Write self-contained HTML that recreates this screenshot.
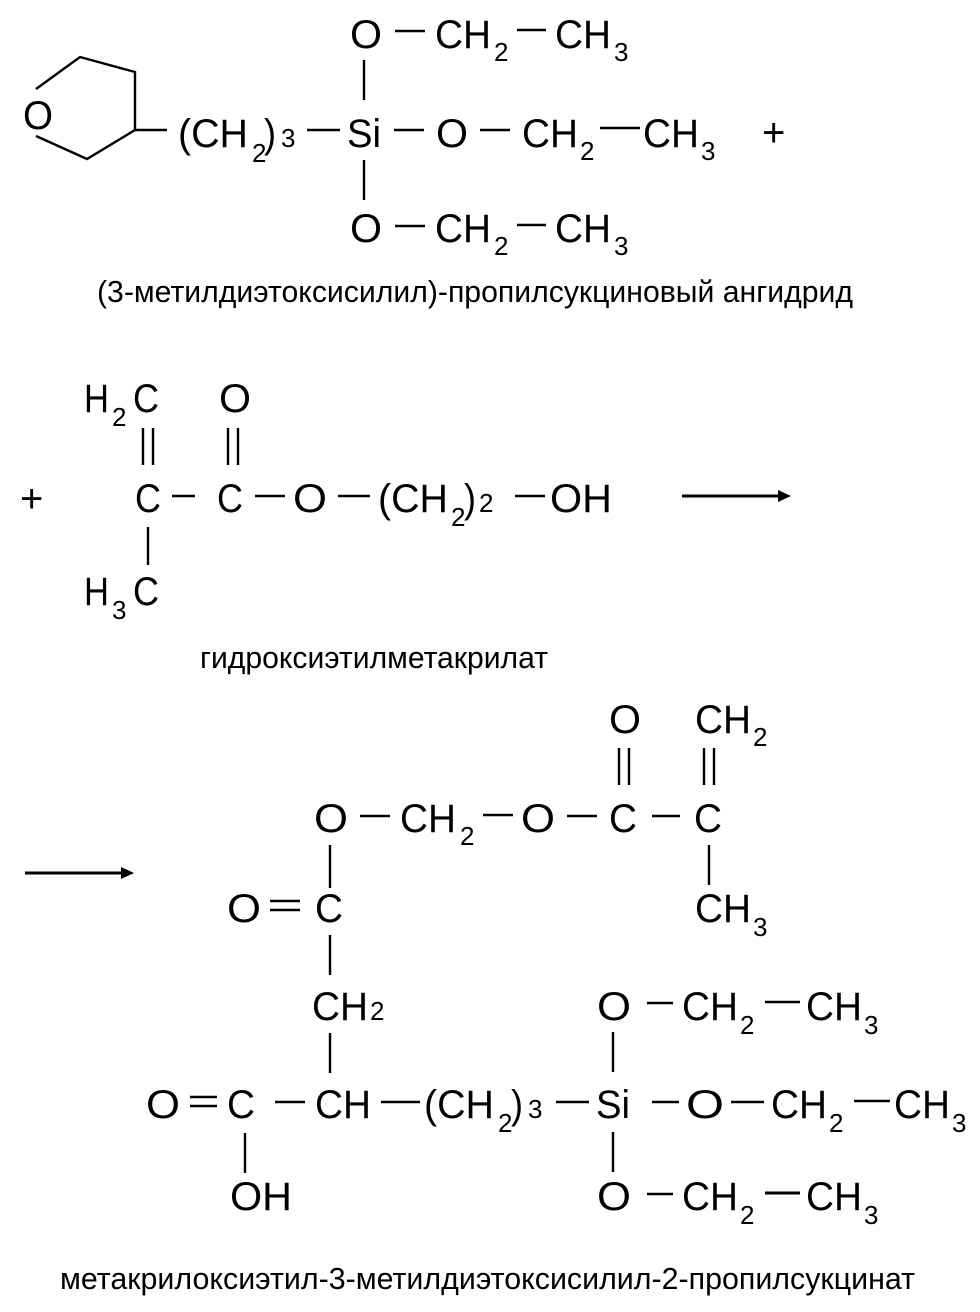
<!DOCTYPE html>
<html><head><meta charset="utf-8"><style>
html,body{margin:0;padding:0;background:#fff;}
svg{display:block;}
text{font-family:"Liberation Sans",sans-serif;fill:#000;}
.m{font-size:40px;}
.s{font-size:26px;}
.l{font-family:"Liberation Sans Narrow","Liberation Sans",sans-serif;font-size:31px;}
line,polyline{stroke:#000;stroke-width:2.4;fill:none;}
</style></head><body>
<svg width="980" height="1312" viewBox="0 0 980 1312" xmlns="http://www.w3.org/2000/svg">
<!-- Section 1 -->
<polyline points="36,89 80,57 135,72 135,130 87,159 36,136"/>
<line x1="135" y1="130" x2="167" y2="130"/>
<text class="m" x="23" y="129" textLength="30" lengthAdjust="spacingAndGlyphs">O</text>
<text class="m" x="178" y="147" textLength="70" lengthAdjust="spacingAndGlyphs">(CH</text>
<text class="s" x="252" y="162">2</text>
<text class="m" x="264" y="147" textLength="12" lengthAdjust="spacingAndGlyphs">)</text>
<text class="s" x="281" y="147">3</text>
<line x1="307" y1="130" x2="340" y2="130"/>
<text class="m" x="347" y="147" textLength="34" lengthAdjust="spacingAndGlyphs">Si</text>
<line x1="394" y1="130" x2="424" y2="130"/>
<text class="m" x="436" y="147" textLength="32" lengthAdjust="spacingAndGlyphs">O</text>
<line x1="480" y1="130" x2="510" y2="130"/>
<text class="m" x="522" y="147" textLength="56" lengthAdjust="spacingAndGlyphs">CH</text>
<text class="s" x="580" y="160">2</text>
<line x1="600" y1="128" x2="640" y2="128"/>
<text class="m" x="643" y="147" textLength="56" lengthAdjust="spacingAndGlyphs">CH</text>
<text class="s" x="701" y="160">3</text>
<text class="m" x="762" y="146">+</text>
<line x1="364" y1="60" x2="364" y2="100"/>
<line x1="364" y1="160" x2="364" y2="200"/>
<text class="m" x="350" y="48" textLength="32" lengthAdjust="spacingAndGlyphs">O</text>
<line x1="395" y1="31" x2="425" y2="31"/>
<text class="m" x="435" y="48" textLength="56" lengthAdjust="spacingAndGlyphs">CH</text>
<text class="s" x="494" y="61">2</text>
<line x1="517" y1="30" x2="546" y2="30"/>
<text class="m" x="555" y="48" textLength="56" lengthAdjust="spacingAndGlyphs">CH</text>
<text class="s" x="614" y="61">3</text>
<text class="m" x="350" y="242" textLength="32" lengthAdjust="spacingAndGlyphs">O</text>
<line x1="395" y1="226" x2="425" y2="226"/>
<text class="m" x="435" y="242" textLength="56" lengthAdjust="spacingAndGlyphs">CH</text>
<text class="s" x="494" y="255">2</text>
<line x1="517" y1="225" x2="546" y2="225"/>
<text class="m" x="555" y="242" textLength="56" lengthAdjust="spacingAndGlyphs">CH</text>
<text class="s" x="614" y="255">3</text>
<text class="l" x="97" y="302" textLength="756" lengthAdjust="spacingAndGlyphs">(3-метилдиэтоксисилил)-пропилсукциновый ангидрид</text>

<!-- Section 2 -->
<text class="m" x="84" y="412" textLength="25" lengthAdjust="spacingAndGlyphs">H</text>
<text class="s" x="112" y="426">2</text>
<text class="m" x="133" y="412" textLength="26" lengthAdjust="spacingAndGlyphs">C</text>
<text class="m" x="219" y="412" textLength="32" lengthAdjust="spacingAndGlyphs">O</text>
<line x1="143" y1="428" x2="143" y2="465"/><line x1="153" y1="428" x2="153" y2="465"/>
<line x1="228" y1="428" x2="228" y2="465"/><line x1="238" y1="428" x2="238" y2="465"/>
<text class="m" x="20" y="512">+</text>
<text class="m" x="135" y="512" textLength="26" lengthAdjust="spacingAndGlyphs">C</text>
<line x1="172" y1="496" x2="195" y2="496"/>
<text class="m" x="217" y="512" textLength="26" lengthAdjust="spacingAndGlyphs">C</text>
<line x1="255" y1="496" x2="285" y2="496"/>
<text class="m" x="293" y="512" textLength="34" lengthAdjust="spacingAndGlyphs">O</text>
<line x1="338" y1="496" x2="370" y2="496"/>
<text class="m" x="378" y="512" textLength="70" lengthAdjust="spacingAndGlyphs">(CH</text>
<text class="s" x="451" y="526">2</text>
<text class="m" x="464" y="512" textLength="12" lengthAdjust="spacingAndGlyphs">)</text>
<text class="s" x="479" y="512">2</text>
<line x1="515" y1="496" x2="545" y2="496"/>
<text class="m" x="550" y="512" textLength="62" lengthAdjust="spacingAndGlyphs">OH</text>
<line x1="682" y1="496" x2="780" y2="496" style="stroke-width:3"/>
<polygon points="778,490 791,496 778,502" fill="#000"/>
<line x1="148" y1="527" x2="148" y2="565"/>
<text class="m" x="84" y="605" textLength="25" lengthAdjust="spacingAndGlyphs">H</text>
<text class="s" x="112" y="619">3</text>
<text class="m" x="133" y="605" textLength="26" lengthAdjust="spacingAndGlyphs">C</text>
<text class="l" x="200" y="668" textLength="348" lengthAdjust="spacingAndGlyphs">гидроксиэтилметакрилат</text>

<!-- Section 3 -->
<text class="m" x="609" y="733" textLength="32" lengthAdjust="spacingAndGlyphs">O</text>
<text class="m" x="695" y="733" textLength="56" lengthAdjust="spacingAndGlyphs">CH</text>
<text class="s" x="753" y="746">2</text>
<line x1="619" y1="748" x2="619" y2="785"/><line x1="629" y1="748" x2="629" y2="785"/>
<line x1="704" y1="748" x2="704" y2="785"/><line x1="714" y1="748" x2="714" y2="785"/>
<text class="m" x="314" y="832" textLength="34" lengthAdjust="spacingAndGlyphs">O</text>
<line x1="360" y1="816" x2="390" y2="816"/>
<text class="m" x="400" y="832" textLength="56" lengthAdjust="spacingAndGlyphs">CH</text>
<text class="s" x="460" y="845">2</text>
<line x1="483" y1="815" x2="513" y2="815"/>
<text class="m" x="521" y="832" textLength="34" lengthAdjust="spacingAndGlyphs">O</text>
<line x1="567" y1="816" x2="597" y2="816"/>
<text class="m" x="609" y="832" textLength="28" lengthAdjust="spacingAndGlyphs">C</text>
<line x1="652" y1="816" x2="680" y2="816"/>
<text class="m" x="694" y="832" textLength="28" lengthAdjust="spacingAndGlyphs">C</text>
<line x1="330" y1="845" x2="330" y2="888"/>
<line x1="709" y1="845" x2="709" y2="885"/>
<line x1="25" y1="873" x2="123" y2="873" style="stroke-width:3"/>
<polygon points="121,867 134,873 121,879" fill="#000"/>
<text class="m" x="227" y="922" textLength="34" lengthAdjust="spacingAndGlyphs">O</text>
<line x1="270" y1="901" x2="300" y2="901"/><line x1="270" y1="910" x2="300" y2="910"/>
<text class="m" x="315" y="922" textLength="28" lengthAdjust="spacingAndGlyphs">C</text>
<text class="m" x="695" y="922" textLength="56" lengthAdjust="spacingAndGlyphs">CH</text>
<text class="s" x="753" y="936">3</text>
<line x1="330" y1="935" x2="330" y2="975"/>
<text class="m" x="312" y="1020" textLength="56" lengthAdjust="spacingAndGlyphs">CH</text>
<text class="s" x="370" y="1020">2</text>
<line x1="330" y1="1033" x2="330" y2="1073"/>
<text class="m" x="597" y="1020" textLength="34" lengthAdjust="spacingAndGlyphs">O</text>
<line x1="647" y1="1003" x2="673" y2="1003"/>
<text class="m" x="682" y="1020" textLength="56" lengthAdjust="spacingAndGlyphs">CH</text>
<text class="s" x="740" y="1034">2</text>
<line x1="765" y1="1002" x2="800" y2="1002"/>
<text class="m" x="806" y="1020" textLength="56" lengthAdjust="spacingAndGlyphs">CH</text>
<text class="s" x="864" y="1034">3</text>
<line x1="613" y1="1032" x2="613" y2="1072"/>
<!-- main row -->
<text class="m" x="146" y="1118" textLength="34" lengthAdjust="spacingAndGlyphs">O</text>
<line x1="190" y1="1097" x2="217" y2="1097"/><line x1="190" y1="1106" x2="217" y2="1106"/>
<text class="m" x="227" y="1118" textLength="28" lengthAdjust="spacingAndGlyphs">C</text>
<line x1="275" y1="1102" x2="305" y2="1102"/>
<text class="m" x="315" y="1118" textLength="56" lengthAdjust="spacingAndGlyphs">CH</text>
<line x1="381" y1="1102" x2="420" y2="1102"/>
<text class="m" x="424" y="1118" textLength="70" lengthAdjust="spacingAndGlyphs">(CH</text>
<text class="s" x="498" y="1132">2</text>
<text class="m" x="511" y="1118" textLength="12" lengthAdjust="spacingAndGlyphs">)</text>
<text class="s" x="528" y="1118">3</text>
<line x1="556" y1="1102" x2="589" y2="1102"/>
<text class="m" x="596" y="1118" textLength="34" lengthAdjust="spacingAndGlyphs">Si</text>
<line x1="652" y1="1102" x2="679" y2="1102"/>
<text class="m" x="686" y="1118" textLength="38" lengthAdjust="spacingAndGlyphs">O</text>
<line x1="731" y1="1102" x2="764" y2="1102"/>
<text class="m" x="771" y="1118" textLength="56" lengthAdjust="spacingAndGlyphs">CH</text>
<text class="s" x="829" y="1132">2</text>
<line x1="854" y1="1101" x2="890" y2="1101"/>
<text class="m" x="894" y="1118" textLength="56" lengthAdjust="spacingAndGlyphs">CH</text>
<text class="s" x="952" y="1132">3</text>
<line x1="245" y1="1133" x2="245" y2="1173"/>
<line x1="613" y1="1132" x2="613" y2="1172"/>
<text class="m" x="230" y="1210" textLength="62" lengthAdjust="spacingAndGlyphs">OH</text>
<text class="m" x="597" y="1210" textLength="34" lengthAdjust="spacingAndGlyphs">O</text>
<line x1="647" y1="1194" x2="673" y2="1194"/>
<text class="m" x="682" y="1210" textLength="56" lengthAdjust="spacingAndGlyphs">CH</text>
<text class="s" x="740" y="1224">2</text>
<line x1="765" y1="1193" x2="800" y2="1193" style="stroke-width:3"/>
<text class="m" x="806" y="1210" textLength="56" lengthAdjust="spacingAndGlyphs">CH</text>
<text class="s" x="864" y="1224">3</text>
<text class="l" x="60" y="1289" textLength="855" lengthAdjust="spacingAndGlyphs">метакрилоксиэтил-3-метилдиэтоксисилил-2-пропилсукцинат</text>
</svg>
</body></html>
